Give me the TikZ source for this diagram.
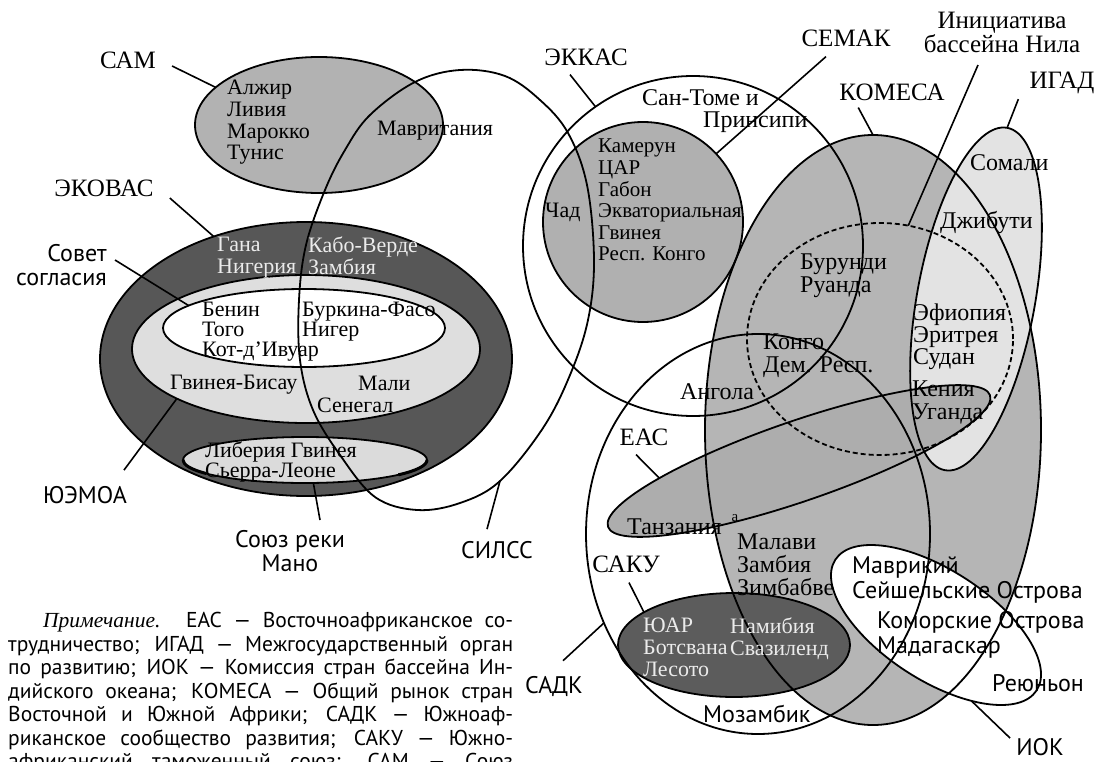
\documentclass[tikz,border=0pt]{standalone}
\usepackage{fontspec}
\setmainfont{Liberation Serif}
\newfontfamily\labelSans{PT Sans}
\usepackage{xcolor}
\colorlet{SAMCOLOR}{black!30}
\colorlet{ECOWASCOLOR}{black!66}
\colorlet{UEMOACOLOR}{black!13}
\colorlet{MANOCOLOR}{black!14}
\colorlet{CEMACCOLOR}{black!31}
\colorlet{COMESACOLOR}{black!29}
\colorlet{IGADCOLOR}{black!11}
\colorlet{EACCOLOR}{black!32}
\colorlet{SACUCOLOR}{black!64}
\colorlet{DARKTEXTCOLOR}{white!92!black}
\usetikzlibrary{shapes.geometric,backgrounds}
\newcommand\orgFont{\fontsize{25}{24}\selectfont}
\newcommand\sideFont{\labelSans\fontsize{24}{24}\selectfont}
\newcommand\countryFont{\fontsize{22}{22}\selectfont}
\newcommand\smallCountryFont{\fontsize{21}{21.6}\selectfont}
\newcommand\bigCountryFont{\fontsize{24}{23}\selectfont}
\newcommand\isleFont{\labelSans\fontsize{24}{25}\selectfont}
\newcommand\noteFont{\labelSans\fontsize{21.5}{23.5}\selectfont}
\tikzset{
  region-fill/.style = {ellipse, inner sep=0pt, outer sep=0pt, fill=#1},
  region-line/.style = {ellipse, inner sep=0pt, outer sep=0pt, line width=1.8pt, #1},
  nile-rim/.style = {draw, dash pattern=on 5pt off 3pt},
  mano-rim/.style = {line width=3pt},
  silss-line/.style = {line width=1.8pt},
  org-style/.style = {font=\orgFont, inner sep=0pt, align=center},
  side-style/.style = {font=\sideFont, inner sep=0pt, align=#1},
  side-style/.default = center,
  country-style/.style = {font=\countryFont, inner sep=0pt, align=left, anchor=north west},
  east-style/.style = {country-style, font=\bigCountryFont},
  isle-style/.style = {font=\isleFont, inner sep=0pt, anchor=west},
  leader/.style = {line width=1.6pt},
  note-style/.style = {font=\noteFont, inner sep=0pt, align=left, anchor=north west}
}
% fill goes to the background layer, the named outline stays on top
\def\createRegion name:#1 at:#2 size:#3/#4 turn:#5 tone:#6 rim:#7;{
  \begin{pgfonlayer}{background}
    \node[region-fill=#6, minimum width=#3pt, minimum height=#4pt, rotate=#5] at (#2) {};
  \end{pgfonlayer}
  \node[region-line=#7, minimum width=#3pt, minimum height=#4pt, rotate=#5] (#1) at (#2) {};
}
\begin{document}
\begin{tikzpicture}[x=1pt, y=-1pt]
  \useasboundingbox (0,0) rectangle (1099,762);
  \clip (0,0) rectangle (1099,762);
  \begin{pgfonlayer}{background}
    \fill[white] (0,0) rectangle (1099,762);
  \end{pgfonlayer}

  % West Africa
  \createRegion name:ecowas at:306,359 size:412/274 turn:0 tone:ECOWASCOLOR rim:draw=black!75;
  \createRegion name:uemoa at:306,349 size:348/148 turn:0 tone:UEMOACOLOR rim:draw=none;
  \createRegion name:entente at:304,328 size:282/78 turn:0 tone:white rim:draw;
  \createRegion name:mano at:305,460 size:244/46 turn:0 tone:MANOCOLOR rim:draw=none;
  \createRegion name:sam at:319,125 size:248/136 turn:0 tone:SAMCOLOR rim:draw;
  % Central and East Africa
  \createRegion name:eccas at:693,246 size:340/340 turn:0 tone:none rim:draw;
  \createRegion name:cemac at:643,222 size:200/200 turn:0 tone:CEMACCOLOR rim:draw;
  \createRegion name:comesa at:873,430 size:336/590 turn:0 tone:COMESACOLOR rim:draw;
  \createRegion name:igad at:976,299 size:118/348 turn:-10.3 tone:IGADCOLOR rim:draw;
  \createRegion name:eac at:799,461 size:404/80 turn:19 tone:EACCOLOR rim:draw;
  \createRegion name:ioc at:936,625 size:240/110 turn:-33 tone:white rim:draw;
  \createRegion name:sacu at:734,645 size:232/104 turn:0 tone:SACUCOLOR rim:draw=none;
  \createRegion name:sadc at:758,534 size:344/400 turn:0 tone:none rim:draw;
  \createRegion name:nile at:880,339 size:266/232 turn:0 tone:none rim:nile-rim;

  \draw[mano-rim] (mano.west) arc[start angle=180, end angle=216, x radius=122pt, y radius=23pt];
  \draw[mano-rim] (mano.east) arc[start angle=0, end angle=-40, x radius=122pt, y radius=23pt];

  \coordinate (silss-foot) at (500,481);
  \draw[silss-line] plot[smooth cycle, tension=0.6] coordinates {
    (370,115) (415,82) (460,70) (505,76) (540,100) (568,133) (587,185)
    (594,260) (588,320) (570,375) (543,428) (500,481) (460,503) (417,510)
    (375,497) (340,455) (313,410) (300,360) (299,300) (306,245) (325,190) (345,150)};

  % countries
  \node[country-style] (sam-list) at (227,80) {Алжир\\[-0.3pt]Ливия\\[-0.3pt]Марокко\\[-0.3pt]Тунис};
  \node[country-style, anchor=west] (mauritania) at (377,131) {Мавритания};
  \node[country-style, text=DARKTEXTCOLOR] (ecowas-west) at (217,237) {Гана\\Нигерия};
  \node[country-style, text=DARKTEXTCOLOR] (ecowas-east) at (308,237) {Кабо-Верде\\Замбия};
  \node[country-style] (entente-west) at (202,302) {Бенин\\[-2pt]Того\\[-2pt]Кот-д'Ивуар};
  \node[country-style] (entente-east) at (302,302) {Буркина-Фасо\\[-2pt]Нигер};
  \node[country-style, anchor=west] (bissau) at (170,385) {Гвинея-Бисау};
  \node[country-style, anchor=west] (mali) at (358,383) {Мали};
  \node[country-style, anchor=west] (senegal) at (317,405) {Сенегал};
  \node[country-style] (mano-list) at (205,442) {Либерия Гвинея\\[-2pt]Сьерра-Леоне};
  \node[country-style, font=\smallCountryFont] (cemac-list) at (598,139) {Камерун\\ЦАР\\Габон\\Экваториальная\\Гвинея\\Респ. Конго};
  \node[country-style, anchor=west] (chad) at (545,212) {Чад};
  \node[east-style, anchor=west] (saotome) at (642,98) {Сан-Томе и};
  \node[east-style, anchor=west] (principe) at (703,122) {Принсипи};
  \node[east-style] (burundi) at (800,254) {Бурунди\\Руанда};
  \node[east-style, anchor=west] (somalia) at (970,163) {Сомали};
  \node[east-style, anchor=west] (djibouti) at (940,222) {Джибути};
  \node[east-style] (ethiopia) at (913,304) {Эфиопия\\[-1pt]Эритрея\\[-1pt]Судан};
  \node[east-style] (kenya) at (912,381) {Кения\\Уганда};
  \node[east-style] (drc) at (763,334) {Конго\\Дем. Респ.};
  \node[east-style, anchor=west] (angola) at (680,392) {Ангола};
  \node[east-style, anchor=west] (tanzania) at (627,527) {Танзания};
  \node[inner sep=0pt, font=\fontsize{15}{15}\selectfont] (tanzania-mark) at (735,518) {a};
  \node[east-style] (malawi) at (737,534) {Малави\\Замбия\\Зимбабве};
  \node[country-style, text=DARKTEXTCOLOR] (sacu-west) at (643,618) {ЮАР\\Ботсвана\\Лесото};
  \node[country-style, text=DARKTEXTCOLOR] (sacu-east) at (730,618) {Намибия\\Свазиленд};
  \node[isle-style] (mauritius) at (852,567) {Маврикий};
  \node[isle-style] (seychelles) at (852,592) {Сейшельские Острова};
  \node[isle-style] (comoros) at (877,622) {Коморские Острова};
  \node[isle-style] (madagascar) at (877,647) {Мадагаскар};
  \node[isle-style] (reunion) at (992,683) {Реюньон};
  \node[isle-style] (mozambique) at (703,714) {Мозамбик};

  % organisations
  \node[org-style] (sam-label) at (128,60) {САМ};
  \node[org-style] (ecowas-label) at (104,188) {ЭКОВАС};
  \node[side-style=right, anchor=north east] (entente-label) at (107,244) {Совет\\согласия};
  \node[side-style] (uemoa-label) at (85,495) {ЮЭМОА};
  \node[side-style, anchor=north] (mano-label) at (290,530) {Союз реки\\Мано};
  \node[side-style] (silss-label) at (497,550) {СИЛСС};
  \node[org-style] (eccas-label) at (586,57) {ЭККАС};
  \node[org-style] (cemac-label) at (846,38) {СЕМАК};
  \node[org-style, anchor=north] (nile-label) at (1002,12) {Инициатива\\бассейна Нила};
  \node[org-style] (comesa-label) at (892,92) {КОМЕСА};
  \node[org-style] (igad-label) at (1062,83) {ИГАД};
  \node[org-style] (eac-label) at (644,437) {ЕАС};
  \node[org-style] (sacu-label) at (626,564) {САКУ};
  \node[side-style] (sadc-label) at (554,686) {САДК};
  \node[side-style] (ioc-label) at (1040,747) {ИОК};

  \draw[leader] ([shift={(16,6)}]sam-label.east) -- (sam.160);
  \draw[leader] ([shift={(16,10)}]ecowas-label.east) -- (ecowas.127);
  \draw[leader] ([shift={(8,16)}]entente-label.north east) -- (entente.169);
  \draw[leader] ([shift={(-3,-16)}]uemoa-label.north east) -- (uemoa.201);
  \draw[leader] ([shift={(30,-10)}]mano-label.north) -- (mano.-70);
  \draw[leader] ([shift={(-10,-12)}]silss-label.north) -- (silss-foot);
  \draw[leader] ([shift={(-16,9)}]eccas-label.south) -- (eccas.125);
  \draw[leader] ([shift={(-20,10)}]cemac-label.south) -- (cemac.43);
  \draw[leader] ([shift={(-24,12)}]nile-label.south) -- (nile.76);
  \draw[leader] ([shift={(19,7)}]comesa-label.south west) -- (comesa.north);
  \draw[leader] ([shift={(-11,5)}]igad-label.south west) -- (igad.north);
  \draw[leader] ([shift={(-8,9)}]eac-label.south) -- (eac.168);
  \draw[leader] ([shift={(3,10)}]sacu-label.south) -- (sacu.160);
  \draw[leader] ([shift={(9,-15)}]sadc-label.north) -- (sadc.210);
  \draw[leader] ([shift={(-6,0)}]ioc-label.north west) -- (ioc.-32);

  % note
  \node[note-style] (note) at (8,612) {%
    \makebox[505pt][s]{\hspace*{35pt}{\rmfamily\itshape Примечание.} ЕАС — Восточноафриканское со-}\\
    \makebox[505pt][s]{трудничество; ИГАД — Межгосударственный орган}\\
    \makebox[505pt][s]{по развитию; ИОК — Комиссия стран бассейна Ин-}\\
    \makebox[505pt][s]{дийского океана; КОМЕСА — Общий рынок стран}\\
    \makebox[505pt][s]{Восточной и Южной Африки; САДК — Южноаф-}\\
    \makebox[505pt][s]{риканское сообщество развития; САКУ — Южно-}\\
    \makebox[505pt][s]{африканский таможенный союз; САМ — Союз}};
\end{tikzpicture}
\end{document}
